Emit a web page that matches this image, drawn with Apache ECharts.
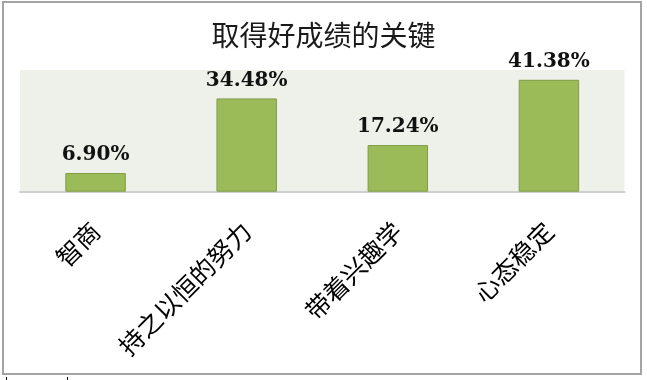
<!DOCTYPE html>
<html>
<head>
<meta charset="utf-8">
<script src="https://cdn.jsdelivr.net/npm/echarts@6/dist/echarts.min.js"></script>
<style>html,body{margin:0;padding:0;background:#fff;}#c{width:647px;height:380px;}</style>
</head>
<body>
<div id="c"></div>
<script>
var titleText = '取得好成绩的关键';
var categories = ['智商', '持之以恒的努力', '带着兴趣学', '心态稳定'];
var values = [6.90, 34.48, 17.24, 41.38];

var chart = echarts.init(document.getElementById('c'), null, {renderer: 'canvas'});
chart.setOption({
  animation: false,
  backgroundColor: '#ffffff',
  title: {
    text: titleText,
    left: 'center',
    top: 16,
    textStyle: {fontFamily: 'Noto Sans CJK SC', fontSize: 28, fontWeight: 'normal', color: '#1a1a1a'}
  },
  grid: {
    left: 20, right: 22.5, top: 70, bottom: 188.3,
    show: true, backgroundColor: '#EEF1E9', borderWidth: 0
  },
  xAxis: {
    type: 'category',
    data: categories,
    axisLine: {show: true, lineStyle: {color: '#CFCFCF', width: 2}},
    axisTick: {show: false},
    axisLabel: {
      rotate: 45, margin: 35, interval: 0,
      fontFamily: 'Noto Sans CJK SC', fontSize: 25, color: '#000'
    }
  },
  yAxis: {
    type: 'value', min: 0, max: 45, show: false,
    splitLine: {show: false}
  },
  series: [{
    type: 'bar',
    data: values,
    barWidth: '40%',
    itemStyle: {color: '#9BBB59', borderColor: '#7E9D46', borderWidth: 1},
    label: {
      show: true, position: 'top', distance: 8,
      formatter: function (p) { return p.value.toFixed(2) + '%'; },
      fontFamily: 'DejaVu Serif', fontWeight: 'bold', fontSize: 20, color: '#111'
    }
  }],
  graphic: [
    {type: 'rect', shape: {x: 3, y: 2, width: 638, height: 372}, style: {fill: 'none', stroke: '#A3A3A3', lineWidth: 2}, silent: true},
    {type: 'line', shape: {x1: 6.5, y1: 377, x2: 6.5, y2: 380}, style: {stroke: '#000', lineWidth: 1}},
    {type: 'line', shape: {x1: 67.5, y1: 377, x2: 67.5, y2: 380}, style: {stroke: '#000', lineWidth: 1}}
  ]
});
</script>
</body>
</html>
